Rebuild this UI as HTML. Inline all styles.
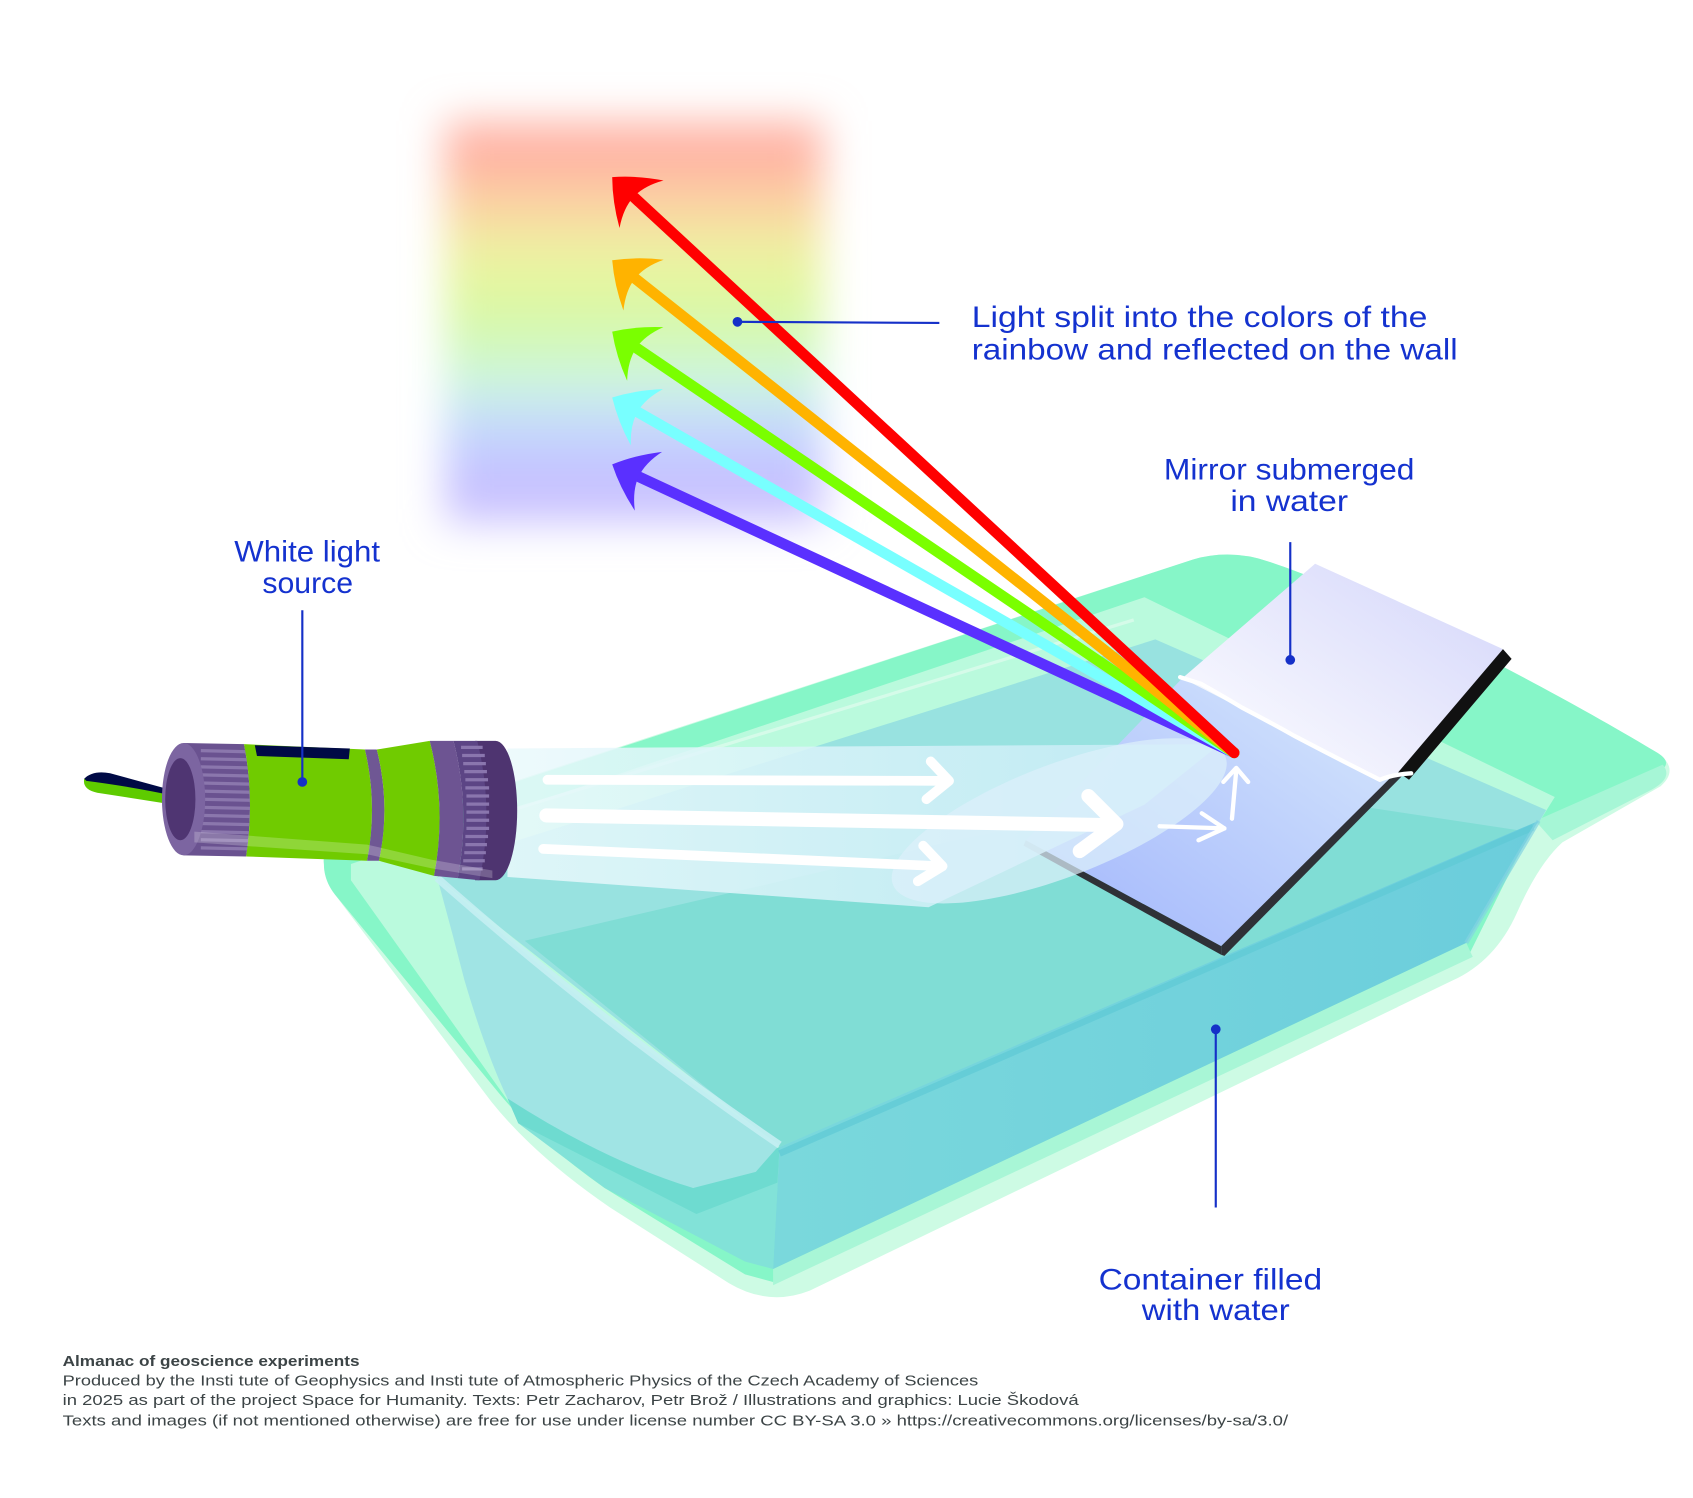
<!DOCTYPE html>
<html><head><meta charset="utf-8"><style>
html,body{margin:0;padding:0;background:#fff;}
svg{display:block;}
</style></head><body>
<svg xmlns="http://www.w3.org/2000/svg" width="1693" height="1498" viewBox="0 0 1568 1387" preserveAspectRatio="none">
<defs>
<filter id="blur" x="-30%" y="-30%" width="160%" height="160%"><feGaussianBlur stdDeviation="19"/></filter>
<linearGradient id="rb" x1="0" y1="0" x2="0" y2="1">
<stop offset="0" stop-color="#ffb6a8"/><stop offset="0.09" stop-color="#ffb2a4"/>
<stop offset="0.22" stop-color="#fad6a2"/><stop offset="0.32" stop-color="#eef0a2"/>
<stop offset="0.43" stop-color="#e0f8a0"/><stop offset="0.525" stop-color="#d4f8b2"/>
<stop offset="0.63" stop-color="#cef8d8"/><stop offset="0.71" stop-color="#c8e6f2"/>
<stop offset="0.80" stop-color="#c4d0ff"/><stop offset="0.90" stop-color="#c6c0ff"/>
<stop offset="1" stop-color="#cbc3ff"/>
</linearGradient>
<linearGradient id="beam" x1="470" y1="0" x2="1140" y2="0" gradientUnits="userSpaceOnUse">
<stop offset="0" stop-color="#eaf9fc"/><stop offset="1" stop-color="#c4ebf6"/>
</linearGradient>
<linearGradient id="mt" x1="0" y1="1" x2="1" y2="0"><stop offset="0" stop-color="#ffffff"/><stop offset="1" stop-color="#d3d5fa"/></linearGradient>
<linearGradient id="ms" x1="1" y1="0" x2="0" y2="1"><stop offset="0" stop-color="#d8e9fc"/><stop offset="1" stop-color="#a0b4fc"/></linearGradient>
<linearGradient id="ff" x1="0" y1="0" x2="1" y2="0"><stop offset="0" stop-color="#7ad8dc"/><stop offset="1" stop-color="#6bcddc"/></linearGradient>
</defs>
<rect x="0" y="0" width="1568" height="1387" fill="#ffffff"/>

<!-- rainbow on wall -->
<rect x="412" y="112" width="350" height="372" fill="url(#rb)" filter="url(#blur)"/>

<!-- container -->
<path d="M300,800 Q298,782 315,776 L1105,518 Q1140,508 1175,520 C1280,555 1440,640 1535,697 Q1556,712 1538,728 L1447,780 Q1425,800 1405,845 Q1385,890 1345,908 L750,1195 Q712,1210 675,1188 L565,1118 Q495,1070 455,1020 L310,828 Q300,815 300,800 Z" fill="#cdfbe4"/>
<path d="M300,800 Q298,783 316,777 L1105,518 Q1140,508 1175,520 C1280,555 1440,640 1535,697 Q1548,705 1540,712 L1422,760 L1360,885 L716,1187 L690,1180 L560,1100 Q500,1058 462,1012 L310,828 Q300,815 300,800 Z" fill="#86f6c8"/>
<path d="M1540,708 L1422,760 L1438,778 L1530,731 Q1550,720 1540,708 Z" fill="#a6f6d6"/>
<path d="M716,1175 L1358,873 L1364,886 L716,1190 Z" fill="#a8f6d6"/>
<!-- light inner band -->
<path d="M325,800 L1060,553 L1440,738 L1425,762 L722,1062 L642,1105 L478,1030 Q400,920 325,815 Z" fill="#bafadd"/>
<path d="M330,794 L1050,574" stroke="#dcfcec" stroke-width="3" opacity="0.8"/>
<!-- tub interior -->
<path d="M410,800 L1070,592 L1432,750 L1425,762 L722,1062 L405,813 Z" fill="#98e2e0"/>
<!-- floor -->
<path d="M486,871 L890,777 L1150,730 L1415,770 L722,1062 Z" fill="#80ddd5"/>
<!-- under tub / dark band -->
<path d="M470,1017 L642,1100 L722,1062 L716,1175 L690,1168 L560,1100 L480,1040 Z" fill="#82e2d8"/>
<path d="M470,1017 L642,1100 L722,1062 L720,1095 L645,1124 L480,1040 Z" fill="#6edbd0"/>
<!-- left face -->
<path d="M405,813 Q560,950 722,1060 L700,1085 L642,1100 Q560,1075 470,1017 Q450,975 430,907 Q418,860 405,813 Z" fill="#a0e4e4"/>
<path d="M405,813 Q560,950 722,1060" stroke="#c4eef2" stroke-width="7" fill="none" opacity="0.9"/>
<!-- front face -->
<path d="M722,1062 L1425,760 L1358,873 L716,1175 Z" fill="url(#ff)"/>
<path d="M722,1068 L1420,766" stroke="#5fcad6" stroke-width="6" opacity="0.7"/>
<path d="M1425,760 L1358,873" stroke="#84d4e2" stroke-width="4" opacity="0.7"/>

<!-- mirror -->
<path d="M1095,628 L1140,651 L1183,673 L1229,697 L1278,721 L1298,714 L1131,876 L950,778 Z" fill="url(#ms)"/>
<path d="M950,778 L1131,876 L1131,884 L948,783 Z" fill="#2f3137"/>
<path d="M1131,876 L1292,716 L1300,717 L1134,885 L1131,884 Z" fill="#2f3137"/>
<path d="M1218,522 L1392,601 L1298,714 L1278,721 Q1255,712 1229,697 L1183,673 Q1160,660 1140,651 L1095,628 Z" fill="url(#mt)"/>
<path d="M1392,601 L1400,610 L1305,722 L1295,715 Z" fill="#111111"/>
<path d="M1093,627 L1112,633 Q1130,643 1150,655 Q1175,668 1200,682 Q1240,703 1278,722 Q1290,717 1307,716" stroke="#ffffff" stroke-width="4" fill="none" stroke-linecap="round" stroke-linejoin="round"/>

<!-- beam -->
<path d="M470,693 L1130,689 L1060,745 L860,840 L470,812 Z" fill="url(#beam)" opacity="0.85"/>
<ellipse cx="981" cy="760" rx="165" ry="52" transform="rotate(-21 981 760)" fill="#dcf0fb" opacity="0.72"/>

<!-- beam arrows -->
<g stroke="#ffffff" fill="none" stroke-linecap="round" stroke-linejoin="round">
<path d="M507,722 L878,723" stroke-width="9"/>
<path d="M862,705 L879,723 L858,740" stroke-width="9"/>
<path d="M506,755 L1030,764" stroke-width="13"/>
<path d="M1008,737 L1034,763 L1000,788" stroke-width="13"/>
<path d="M503,786 L871,802" stroke-width="9"/>
<path d="M855,783 L873,802 L850,816" stroke-width="9"/>
<path d="M1074,765 L1134,767" stroke-width="4"/>
<path d="M1113,753 L1134,767 L1110,778" stroke-width="4"/>
<path d="M1141,758 L1145,713" stroke-width="4"/>
<path d="M1133,724 L1145,711 L1156,724" stroke-width="4"/>
</g>

<!-- rainbow rays -->
<g stroke-width="10" stroke-linecap="round">
<line x1="1143" y1="697" x2="592.4" y2="441.8" stroke="#5a30ff"/>
<line x1="1143" y1="697" x2="591.3" y2="381.9" stroke="#78ffff"/>
<line x1="1143" y1="697" x2="590.2" y2="322.7" stroke="#7aff00"/>
<line x1="1143" y1="697" x2="589" y2="258.4" stroke="#ffb300"/>
<line x1="1143" y1="697" x2="587.6" y2="183" stroke="#ff0000"/>
</g>
<g>
<path d="M0,0 Q16,-17 37,-30 Q27,-14 27,0 Q27,14 37,30 Q16,17 0,0 Z" fill="#5a30ff" transform="translate(567,430) rotate(24.87)"/>
<path d="M0,0 Q16,-17 37,-30 Q27,-14 27,0 Q27,14 37,30 Q16,17 0,0 Z" fill="#78ffff" transform="translate(567,368) rotate(29.73)"/>
<path d="M0,0 Q16,-17 37,-30 Q27,-14 27,0 Q27,14 37,30 Q16,17 0,0 Z" fill="#7aff00" transform="translate(567,307) rotate(34.10)"/>
<path d="M0,0 Q16,-17 37,-30 Q27,-14 27,0 Q27,14 37,30 Q16,17 0,0 Z" fill="#ffb300" transform="translate(567,241) rotate(38.37)"/>
<path d="M0,0 Q16,-17 37,-30 Q27,-14 27,0 Q27,14 37,30 Q16,17 0,0 Z" fill="#ff0000" transform="translate(567,164) rotate(42.78)"/>
</g>

<!-- flashlight -->
<path d="M78,721 Q76,731 90,734 L167,746 L168,736 Q120,727 78,721 Z" fill="#5ecb00"/>
<path d="M78,721 Q86,713 102,716 L168,734 L167,738 Q120,728 80,723 Z" fill="#000a45"/>
<path d="M170,688 L226,689 Q236,740 228,793 L170,792 Z" fill="#6a5290"/>
<g stroke="#8b77ad" stroke-width="3">
<line x1="186" y1="695" x2="229" y2="696"/><line x1="186" y1="702.5" x2="230" y2="703.5"/>
<line x1="186" y1="710" x2="231" y2="711"/><line x1="186" y1="717.5" x2="232" y2="718.5"/>
<line x1="186" y1="725" x2="232" y2="726"/><line x1="186" y1="732.5" x2="233" y2="733.5"/>
<line x1="186" y1="740" x2="233" y2="741"/><line x1="186" y1="747.5" x2="233" y2="748.5"/>
<line x1="186" y1="755" x2="232" y2="756"/><line x1="186" y1="762.5" x2="232" y2="763.5"/>
<line x1="186" y1="770" x2="231" y2="771"/><line x1="186" y1="777.5" x2="230" y2="778.5"/>
<line x1="186" y1="785" x2="229" y2="786"/>
</g>
<ellipse cx="170" cy="740" rx="20" ry="52" fill="#7c65a1"/>
<ellipse cx="167" cy="740" rx="14" ry="38" fill="#4f3572"/>
<path d="M226,689 L338,694 Q350,745 340,797 L228,793 Q236,740 226,689 Z" fill="#70cb00"/>
<path d="M236,690 L324,693 L323,703 L238,700 Z" fill="#000a45"/>
<path d="M338,694 L349,694 Q362,746 351,797 L340,797 Q350,745 338,694 Z" fill="#6f5794"/>
<path d="M349,694 L398,686 Q414,748 402,811 L351,797 Q362,746 349,694 Z" fill="#70cb00"/>
<path d="M398,686 L420,686 Q436,749 424,813 L402,811 Q414,748 398,686 Z" fill="#6d5492"/>
<path d="M440,686 L459,686 A20,64.5 0 0 1 459,815 L440,815 Z" fill="#4e3470"/>
<path d="M420,686 L442,686 Q458,750 444,815 L424,813 Q436,749 420,686 Z" fill="#5c4585"/>
<g stroke="#8a76ae" stroke-width="3">
<line x1="427" y1="692" x2="447" y2="692"/><line x1="428" y1="699.5" x2="449" y2="699.5"/>
<line x1="429" y1="707" x2="450" y2="707"/><line x1="430" y1="714.5" x2="451" y2="714.5"/>
<line x1="431" y1="722" x2="452" y2="722"/><line x1="431" y1="729.5" x2="453" y2="729.5"/>
<line x1="432" y1="737" x2="453" y2="737"/><line x1="432" y1="744.5" x2="453" y2="744.5"/>
<line x1="432" y1="752" x2="453" y2="752"/><line x1="432" y1="759.5" x2="453" y2="759.5"/>
<line x1="432" y1="767" x2="453" y2="767"/><line x1="431" y1="774.5" x2="452" y2="774.5"/>
<line x1="431" y1="782" x2="451" y2="782"/><line x1="430" y1="789.5" x2="450" y2="789.5"/>
<line x1="429" y1="797" x2="449" y2="797"/><line x1="428" y1="804.5" x2="447" y2="804.5"/>
</g>
<path d="M180,770 L340,782 L400,796 L456,806 L456,813 L400,804 L340,791 L180,780 Z" fill="#ffffff" opacity="0.22"/>

<!-- leader lines -->
<g stroke="#1530c8" stroke-width="2" fill="none">
<line x1="683" y1="298" x2="870" y2="299"/>
<line x1="280" y1="565" x2="280" y2="722"/>
<line x1="1195" y1="502" x2="1195" y2="610"/>
<line x1="1126" y1="953" x2="1126" y2="1118"/>
</g>
<g fill="#1530c8">
<circle cx="683" cy="298" r="4.5"/>
<circle cx="280" cy="724" r="4.5"/>
<circle cx="1195" cy="611" r="4.5"/>
<circle cx="1126" cy="953" r="4.5"/>
</g>

<!-- labels -->
<g font-family="'Liberation Sans', sans-serif" font-size="27" fill="#1432cf">
<text x="284.5" y="520" text-anchor="middle" textLength="135" lengthAdjust="spacingAndGlyphs">White light</text>
<text x="285" y="549" text-anchor="middle" textLength="84" lengthAdjust="spacingAndGlyphs">source</text>
<text x="900" y="303" textLength="422" lengthAdjust="spacingAndGlyphs">Light split into the colors of the</text>
<text x="900" y="333" textLength="450" lengthAdjust="spacingAndGlyphs">rainbow and reflected on the wall</text>
<text x="1194" y="444" text-anchor="middle" textLength="232" lengthAdjust="spacingAndGlyphs">Mirror submerged</text>
<text x="1194" y="473" text-anchor="middle" textLength="109" lengthAdjust="spacingAndGlyphs">in water</text>
<text x="1121" y="1194" text-anchor="middle" textLength="207" lengthAdjust="spacingAndGlyphs">Container filled</text>
<text x="1126" y="1222" text-anchor="middle" textLength="137" lengthAdjust="spacingAndGlyphs">with water</text>
</g>

<!-- footer -->
<g font-family="'Liberation Sans', sans-serif" font-size="14" fill="#3c4446">
<text x="58" y="1265" font-weight="bold" textLength="275" lengthAdjust="spacingAndGlyphs">Almanac of geoscience experiments</text>
<text x="58" y="1283" textLength="848" lengthAdjust="spacingAndGlyphs">Produced by the Insti tute of Geophysics and Insti tute of Atmospheric Physics of the Czech Academy of Sciences</text>
<text x="58" y="1301" textLength="941" lengthAdjust="spacingAndGlyphs">in 2025 as part of the project Space for Humanity. Texts: Petr Zacharov, Petr Brož / Illustrations and graphics: Lucie Škodová</text>
<text x="58" y="1320" textLength="1135" lengthAdjust="spacingAndGlyphs">Texts and images (if not mentioned otherwise) are free for use under license number CC BY-SA 3.0 » https://creativecommons.org/licenses/by-sa/3.0/</text>
</g>
</svg>
</body></html>
